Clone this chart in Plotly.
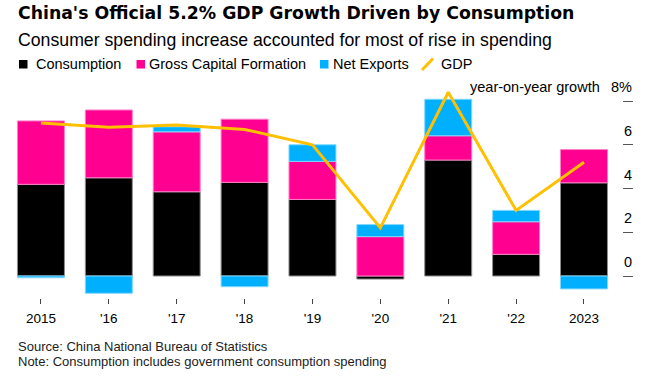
import plotly.graph_objects as go

years = ["2015", "'16", "'17", "'18", "'19", "'20", "'21", "'22", "2023"]
consumption = [4.19, 4.49, 3.85, 4.28, 3.50, -0.14, 5.30, 0.99, 4.26]
gross_capital = [2.90, 3.10, 2.74, 2.89, 1.74, 1.80, 1.11, 1.49, 1.52]
net_exports = [-0.08, -0.79, 0.23, -0.49, 0.76, 0.55, 1.67, 0.52, -0.59]
gdp = [7.0, 6.8, 6.9, 6.7, 6.0, 2.2, 8.4, 3.0, 5.2]
y_ticks = [0, 2, 4, 6, 8]
y_tick_labels = ["0", "2", "4", "6", "8%"]

W, H = 659, 386
ML, MR, MT, MB = 7, 37, 85, 88
PW = W - ML - MR
PH = H - MT - MB

def xp(px):
    return (px - ML) / PW

def yp(py):
    return (H - MB - py) / PH

C_CONS = "#000000"
C_GCF = "#FF0090"
C_NX = "#00B0FF"
C_GDP = "#FFC000"
FONT = "Liberation Sans, Arial, sans-serif"

fig = go.Figure()
fig.add_trace(go.Bar(x=years, y=consumption, name="Consumption",
                     marker=dict(color=C_CONS, line=dict(color="#8c8c8c", width=1))))
fig.add_trace(go.Bar(x=years, y=gross_capital, name="Gross Capital Formation",
                     marker=dict(color=C_GCF, line=dict(color="#ff80c8", width=1))))
fig.add_trace(go.Bar(x=years, y=net_exports, name="Net Exports",
                     marker=dict(color=C_NX, line=dict(color="#80d8ff", width=1))))
fig.add_trace(go.Scatter(x=years, y=gdp, name="GDP", mode="lines",
                         line=dict(color=C_GDP, width=3)))

annotations = []
# y tick labels above tick marks
for v, t in zip(y_ticks, y_tick_labels):
    annotations.append(dict(text=t, xref="paper", yref="y", x=xp(634), y=v,
                            xanchor="right", yanchor="middle", yshift=14,
                            showarrow=False, font=dict(family=FONT, size=14.5, color="#000")))
annotations.append(dict(text="year-on-year growth", xref="paper", yref="y", x=xp(602), y=y_ticks[-1],
                        xanchor="right", yanchor="middle", yshift=14, showarrow=False,
                        font=dict(family=FONT, size=14.5, color="#000")))
# title / subtitle
annotations.append(dict(text="<b>China's Official 5.2% GDP Growth Driven by Consumption</b>",
                        xref="paper", yref="paper", x=xp(16), y=yp(13), xanchor="left", yanchor="middle",
                        showarrow=False, font=dict(family="DejaVu Sans, sans-serif", size=17.3, color="#000")))
annotations.append(dict(text="Consumer spending increase accounted for most of rise in spending",
                        xref="paper", yref="paper", x=xp(16), y=yp(40), xanchor="left", yanchor="middle",
                        showarrow=False, font=dict(family=FONT, size=17.7, color="#000")))
# legend
leg = [("Consumption", 35), ("Gross Capital Formation", 147.5), ("Net Exports", 332.5), ("GDP", 440)]
for name, x0 in leg:
    annotations.append(dict(text=name, xref="paper", yref="paper", x=xp(x0 - 1), y=yp(64.3),
                            xanchor="left", yanchor="middle", showarrow=False,
                            font=dict(family=FONT, size=14.5, color="#000")))
# footer
annotations.append(dict(text="Source: China National Bureau of Statistics", xref="paper", yref="paper",
                        x=xp(16), y=yp(346.7), xanchor="left", yanchor="middle", showarrow=False,
                        font=dict(family=FONT, size=13, color="#222")))
annotations.append(dict(text="Note: Consumption includes government consumption spending", xref="paper",
                        yref="paper", x=xp(16), y=yp(361.7), xanchor="left", yanchor="middle",
                        showarrow=False, font=dict(family=FONT, size=13, color="#222")))

shapes = []
for (x0, x1), col in [((19, 27.5), C_CONS), ((136.5, 145), C_GCF), ((320, 328.5), C_NX)]:
    shapes.append(dict(type="rect", xref="paper", yref="paper", x0=xp(x0), x1=xp(x1),
                       y0=yp(68.5), y1=yp(60), fillcolor=col, line=dict(width=0)))
shapes.append(dict(type="line", xref="paper", yref="paper", x0=xp(422), y0=yp(70), x1=xp(433), y1=yp(58.5),
                   line=dict(color=C_GDP, width=3)))

zero_px = 276
unit_px = 21.875
y_top = (zero_px - MT) / unit_px
y_bot = -((H - MB) - zero_px) / unit_px

fig.update_layout(
    width=W, height=H,
    margin=dict(l=ML, r=MR, t=MT, b=MB),
    paper_bgcolor="white", plot_bgcolor="white",
    barmode="relative", bargap=0.308,
    showlegend=False,
    annotations=annotations, shapes=shapes,
    font=dict(family=FONT, color="#000"),
    xaxis=dict(type="category", range=[-0.5, 8.56], ticks="outside", ticklen=5, tickwidth=1,
               tickcolor="#444", showgrid=False, showline=False, zeroline=False,
               ticklabelstandoff=3,
               tickfont=dict(family=FONT, size=13.5, color="#000")),
    yaxis=dict(side="right", range=[y_bot, y_top], tickvals=y_ticks, ticks="outside", ticklen=10,
               tickwidth=1, tickcolor="#555", showticklabels=False, showgrid=False,
               showline=False, zeroline=False),
)

fig.write_html("out.html", config={"displayModeBar": False},
               post_script="document.body.style.margin='0';")
